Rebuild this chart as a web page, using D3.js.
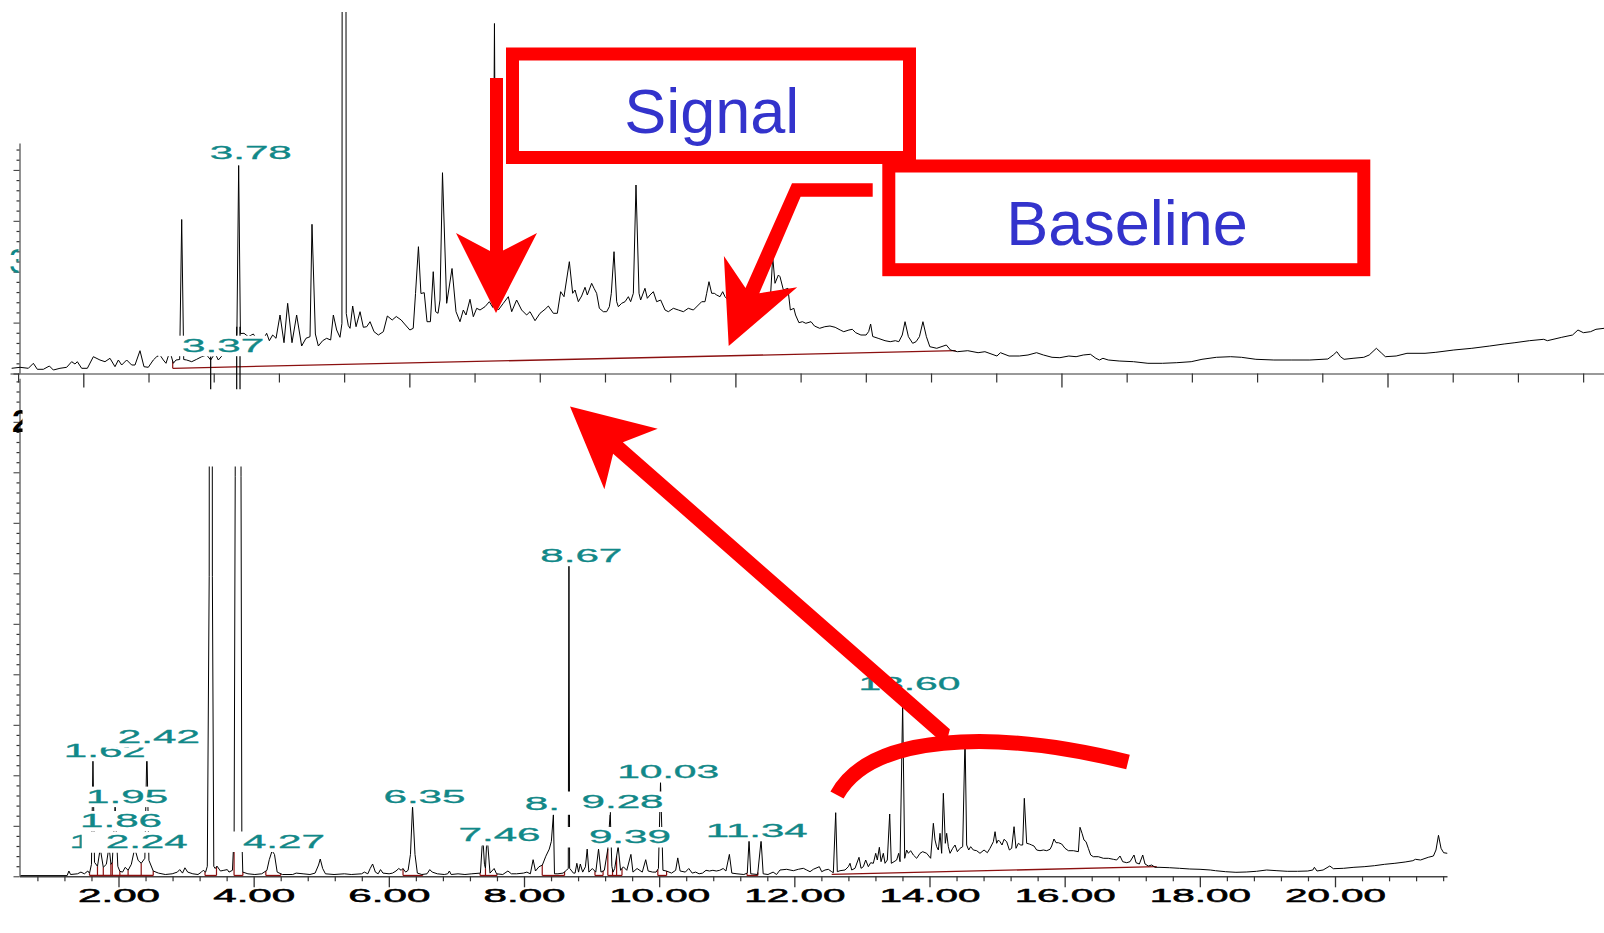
<!DOCTYPE html>
<html>
<head>
<meta charset="utf-8">
<script src="https://d3js.org/d3.v7.min.js"></script>
<style>
  html, body { margin: 0; padding: 0; background: #fff; }
  svg { display: block; }
</style>
</head>
<body>
<div id="chart"></div>
<script>
// ---- data: [retention time (min), abundance] ----
const topTrace = [
[0.419,5.2],[0.543,6.2],[0.666,5.2],[0.74,10.2],[0.799,4.2],[0.888,4.2],[0.977,7.5],[1.036,3.5],[1.134,5.2],[1.233,6.2],[1.307,11.8],[1.356,9.5],[1.391,11.8],[1.455,5.2],[1.539,5.2],[1.628,16.8],[1.726,13.5],[1.8,11.8],[1.874,15.2],[1.948,6.8],[1.998,13.5],[2.047,8.5],[2.121,13.5],[2.195,8.5],[2.244,8.5],[2.318,22.8],[2.377,6.8],[2.441,6.2],[2.515,13.5],[2.565,16.8],[2.614,18.5],[2.663,13.5],[2.703,10.2],[2.737,17.5],[2.772,19.5],[2.811,10.2],[2.851,13.5],[2.905,14],[2.935,154],[2.965,14],[3.009,13.5],[3.083,11.8],[3.157,14.2],[3.231,16.8],[3.305,18.5],[3.364,13.5],[3.428,20.2],[3.477,13.5],[3.542,18.5],[3.65,19.5],[3.724,21.8],[3.752,40],[3.778,208],[3.804,40],[3.857,40.2],[3.921,36.8],[3.995,39.5],[4.069,31.8],[4.143,34.2],[4.192,40.2],[4.232,32.8],[4.281,38.5],[4.331,35.2],[4.39,58.5],[4.449,30.8],[4.503,70.2],[4.567,30.8],[4.636,58.5],[4.71,27.5],[4.774,35.2],[4.834,36.8],[4.863,149.2],[4.913,39.5],[4.957,27.5],[5.021,32.8],[5.08,35.2],[5.139,33.5],[5.179,58.5],[5.228,43.5],[5.277,36.2],[5.306,50],[5.312,700],[5.337,900],[5.362,700],[5.37,60],[5.4,48],[5.426,45.2],[5.465,67.5],[5.515,46.8],[5.574,61.8],[5.623,46.2],[5.673,46.8],[5.722,51.8],[5.781,41.8],[5.845,38.5],[5.919,41.8],[5.978,57.5],[6.05,53.5],[6.11,57],[6.183,53.5],[6.233,49.5],[6.311,43.5],[6.361,45.2],[6.395,80],[6.438,126.8],[6.475,80],[6.524,80.8],[6.565,51.8],[6.615,51.8],[6.657,101.8],[6.692,61.8],[6.728,60.2],[6.757,73.5],[6.794,200.8],[6.856,70.2],[6.935,105],[6.994,61.8],[7.053,51.8],[7.102,63.5],[7.142,58.5],[7.201,74.2],[7.25,56.8],[7.3,65.2],[7.349,63.5],[7.423,66.8],[7.487,71.8],[7.54,66],[7.563,350],[7.585,66],[7.62,63.5],[7.694,70.2],[7.768,76.8],[7.818,61.8],[7.891,73.5],[7.965,63.5],[8.039,58.5],[8.089,61.8],[8.163,52.8],[8.237,60.2],[8.311,64.2],[8.36,67.5],[8.434,60.2],[8.493,60.2],[8.543,81.8],[8.592,76.8],[8.671,111.8],[8.72,80.2],[8.755,83.5],[8.804,71.8],[8.853,77.5],[8.903,86.2],[8.937,78.5],[9.001,90.2],[9.036,85.2],[9.075,80.2],[9.115,65.2],[9.174,61.8],[9.223,61.8],[9.263,66.8],[9.292,80.2],[9.332,121.8],[9.371,71.8],[9.396,66.8],[9.445,70.2],[9.495,71.8],[9.544,76.8],[9.578,71.8],[9.618,80.2],[9.657,188.5],[9.702,80.2],[9.726,73.5],[9.79,85.2],[9.825,75.2],[9.864,78.5],[9.914,81.8],[9.963,71.8],[10.022,73.5],[10.087,63.5],[10.136,61.8],[10.21,65.2],[10.284,63.5],[10.358,61.8],[10.431,65.2],[10.506,63.5],[10.58,68.5],[10.629,71.8],[10.678,71.8],[10.703,80.2],[10.737,91.8],[10.777,80.2],[10.816,80.2],[10.851,78.5],[10.9,76.8],[10.94,81.8],[10.974,76.8],[11.1,68],[11.3,64],[11.5,66],[11.615,63.5],[11.65,80],[11.68,116.8],[11.714,90.2],[11.764,98.5],[11.788,96.8],[11.838,83.5],[11.905,85.2],[11.941,63.5],[11.993,65.2],[12.018,58.5],[12.068,50.8],[12.12,51.8],[12.17,50.2],[12.247,51.8],[12.298,47.5],[12.375,45.2],[12.451,46.8],[12.527,47.5],[12.604,46.2],[12.679,43.5],[12.731,41.8],[12.808,43.5],[12.858,44.2],[12.908,40.8],[12.985,38.5],[13.062,38.5],[13.1,42],[13.129,49.5],[13.16,37],[13.24,35.2],[13.342,32.8],[13.419,31.8],[13.495,32.8],[13.546,31.8],[13.597,38.5],[13.638,51.8],[13.688,36.8],[13.751,30.2],[13.801,31.8],[13.851,36.8],[13.903,51.8],[13.954,36.8],[14.005,26.8],[14.107,25.2],[14.249,28.5],[14.31,23.5],[14.412,21.8],[14.566,22.8],[14.719,20.8],[14.82,21.8],[14.998,17.5],[15.05,20.8],[15.177,17.5],[15.329,17.5],[15.457,18.5],[15.584,20.8],[15.686,18.5],[15.813,16.2],[15.929,15.8],[16.062,17.5],[16.169,16.8],[16.275,18.5],[16.382,19.2],[16.462,15.2],[16.515,13.5],[16.566,15.2],[16.646,13.5],[16.806,12.5],[17.019,11.8],[17.232,10.2],[17.445,10.2],[17.659,10.8],[17.872,11.8],[18.032,14.2],[18.245,16.2],[18.456,16.8],[18.616,16.2],[18.829,14.2],[19.095,13.5],[19.362,13.5],[19.628,13.5],[19.894,14.5],[19.974,18.5],[20.027,21.8],[20.081,16.8],[20.134,14.2],[20.267,15.2],[20.426,16.2],[20.506,18.5],[20.612,25.2],[20.692,20.2],[20.745,16.8],[20.905,17.5],[21.065,20.2],[21.332,20.2],[21.492,21.2],[21.758,23.5],[22.025,25.2],[22.29,27.5],[22.503,29.5],[22.662,30.8],[22.876,32.8],[23.089,34.2],[23.142,32.8],[23.355,36.2],[23.515,38.5],[23.595,43.5],[23.675,40.8],[23.781,41.8],[23.861,44.2],[23.983,45.2]
];

const botTrace = [
[0.55,0.7],[1.24,0.7],[1.266,5.3],[1.291,1.8],[1.393,2.5],[1.444,4.2],[1.495,2.5],[1.546,5.3],[1.571,3],[1.6,12],[1.622,117],[1.645,14],[1.689,10],[1.73,28],[1.775,9],[1.82,12],[1.86,30],[1.888,12],[1.908,14],[1.95,70],[1.99,10],[2.02,5],[2.06,4.2],[2.1,9],[2.142,6],[2.19,12],[2.24,28],[2.29,16],[2.336,13],[2.39,18],[2.42,128],[2.45,16],[2.514,5.3],[2.591,3.2],[2.692,1.8],[2.794,2.5],[2.871,4.2],[2.906,6.7],[2.947,3.2],[2.983,8.5],[3.024,4.2],[3.1,2.5],[3.176,1.8],[3.227,4.2],[3.253,6],[3.289,4.2],[3.314,10],[3.342,300],[3.366,3000],[3.389,300],[3.41,10],[3.431,7.8],[3.457,10.2],[3.508,5.3],[3.559,6],[3.61,6.7],[3.635,4.2],[3.686,6],[3.711,43],[3.727,400],[3.77,3000],[3.813,400],[3.825,40],[3.839,4.2],[3.915,2.5],[4.017,1.8],[4.119,2.5],[4.196,6],[4.231,16.6],[4.272,25.4],[4.308,21.9],[4.348,4.2],[4.425,1.8],[4.578,1.8],[4.629,3.2],[4.731,2.5],[4.833,1.8],[4.909,3.2],[4.96,11.3],[4.985,17.3],[5.021,7.8],[5.062,2.5],[5.189,1.8],[5.342,2.5],[5.444,1.8],[5.597,2.5],[5.638,4.2],[5.689,2.5],[5.724,7.8],[5.76,12.3],[5.801,4.2],[5.842,2.5],[5.877,6.7],[5.913,3.2],[6.004,2.5],[6.055,3.2],[6.106,5.3],[6.147,7.8],[6.183,6],[6.208,7.8],[6.249,4.2],[6.285,6],[6.32,21.9],[6.351,70.2],[6.387,21.9],[6.422,3.2],[6.489,1.8],[6.565,2.5],[6.606,6.7],[6.642,4.2],[6.718,2.5],[6.82,1.8],[6.871,2.5],[6.896,5.3],[6.922,1.8],[7.024,2.5],[7.126,1.8],[7.228,2.5],[7.355,3.2],[7.38,30],[7.395,34],[7.415,12],[7.43,8],[7.445,30],[7.462,34],[7.497,3.2],[7.558,7.8],[7.594,2.5],[7.686,1.8],[7.762,5.3],[7.813,2.5],[7.89,2.5],[7.992,3.2],[8.043,4.2],[8.094,2.5],[8.135,16.6],[8.17,5.3],[8.221,9.5],[8.272,11.3],[8.323,20.1],[8.374,27.2],[8.405,35],[8.435,62],[8.451,2.5],[8.502,2.5],[8.578,3.2],[8.629,6],[8.655,8],[8.665,311],[8.675,8],[8.731,3.2],[8.756,3.2],[8.782,13],[8.807,4.2],[8.833,12.3],[8.868,4.2],[8.909,9.5],[8.935,27.2],[8.96,4.2],[9.011,7.8],[9.062,4.2],[9.103,27.2],[9.139,4.2],[9.189,6],[9.24,27.2],[9.276,64],[9.3,10],[9.317,4.2],[9.342,7.8],[9.393,30],[9.429,6],[9.47,9.5],[9.521,6],[9.582,21.9],[9.612,4.2],[9.673,7.8],[9.75,4.2],[9.801,16.6],[9.837,5.3],[9.903,4.2],[9.954,4.2],[9.989,7.8],[10.02,94],[10.056,6],[10.107,5.3],[10.183,3.2],[10.244,6],[10.275,18.4],[10.31,5.3],[10.387,4.2],[10.438,7.8],[10.489,3.2],[10.54,4.2],[10.591,2.5],[10.642,3.2],[10.693,6],[10.744,5.3],[10.795,6],[10.845,5.3],[10.896,6],[10.947,7.8],[10.988,5.3],[11.039,21.9],[11.075,3.2],[11.151,2.5],[11.253,1.8],[11.304,3.2],[11.33,36],[11.355,2.5],[11.457,1.8],[11.508,36],[11.539,2.5],[11.61,1.8],[11.686,4.2],[11.737,1.8],[11.788,6.3],[11.887,7],[11.985,5.6],[12.059,7],[12.133,8],[12.183,6.3],[12.232,4.6],[12.281,7],[12.37,9.6],[12.405,4.6],[12.454,6.3],[12.503,7],[12.553,4.6],[12.577,3.6],[12.612,63.6],[12.636,4.6],[12.676,5.6],[12.75,6.3],[12.799,9.6],[12.824,13],[12.849,6.3],[12.898,8],[12.957,19],[12.987,8],[13.021,9.6],[13.056,16.3],[13.095,9.6],[13.13,13.6],[13.169,13],[13.204,23],[13.228,16.3],[13.258,29],[13.283,14.6],[13.317,23],[13.342,13],[13.376,16.3],[13.411,62.3],[13.435,13],[13.475,14.6],[13.514,16.3],[13.544,23],[13.564,14.6],[13.603,172],[13.633,18],[13.662,26.3],[13.687,23],[13.721,25.6],[13.761,21.3],[13.81,18],[13.86,23],[13.899,24.6],[13.958,23],[14.017,18],[14.057,53],[14.082,36.3],[14.106,29.6],[14.131,26.3],[14.156,43],[14.18,23],[14.205,83],[14.234,33],[14.254,43],[14.279,29.6],[14.304,23],[14.343,28],[14.378,31.3],[14.412,24.6],[14.452,28],[14.491,29.6],[14.526,140],[14.55,31.3],[14.58,26.3],[14.609,29.6],[14.649,26.3],[14.698,25.6],[14.747,23],[14.807,26.3],[14.856,23.6],[14.895,28],[14.945,34.6],[14.97,44.6],[14.994,33],[15.019,36.3],[15.043,34.6],[15.073,31.3],[15.103,37],[15.142,34.6],[15.182,26.3],[15.216,28],[15.251,49.6],[15.28,28],[15.315,33],[15.349,31.3],[15.379,31.3],[15.403,78],[15.438,33],[15.477,32.3],[15.512,31.3],[15.546,30.3],[15.586,26.3],[15.635,25.6],[15.685,26.3],[15.734,25.6],[15.783,27],[15.808,30.3],[15.842,37.3],[15.872,33.6],[15.907,33.6],[15.956,32.3],[16.005,28],[16.055,25.6],[16.129,25.6],[16.203,24.6],[16.227,49],[16.257,43],[16.286,36.3],[16.316,34.6],[16.35,28],[16.385,21.3],[16.424,19.6],[16.498,19.6],[16.573,18],[16.646,18],[16.72,17],[16.77,16.3],[16.819,20.3],[16.859,14.6],[16.918,13.6],[16.967,14.6],[17.026,21.3],[17.056,13.6],[17.105,12.3],[17.155,21.3],[17.189,12.3],[17.238,10.3],[17.288,11.3],[17.337,9],[17.396,9],[17.548,8.6],[17.699,8],[17.851,7.3],[18.003,7],[18.155,6.3],[18.231,5.6],[18.382,4.6],[18.534,4],[18.686,4.3],[18.838,5],[18.989,6.3],[19.141,5.6],[19.293,5],[19.445,5],[19.597,5.3],[19.672,6.3],[19.695,9],[19.733,5.3],[19.824,6.3],[19.923,10.3],[19.976,7.6],[20.128,8],[20.28,9],[20.431,9.6],[20.583,10.6],[20.735,12],[20.886,13],[21.038,14.3],[21.152,15.6],[21.19,17],[21.266,16.3],[21.38,19],[21.456,20.3],[21.494,26.3],[21.531,41],[21.569,28],[21.607,23.6],[21.661,23]
];

// integration baselines
const topBaseline = [[2.802, 5.2], [14.387, 22.8]];
const botLongBaseline = [[12.553, 2.0], [17.362, 9.6]];
const botSegments = [[1.571, 2.514], [3.28, 3.45], [3.71, 3.84], [4.18, 4.40], [6.21, 6.50], [7.35, 7.60], [8.27, 8.60], [9.05, 9.17], [9.24, 9.45], [9.98, 10.11], [11.30, 11.46]];
const botSplits = [1.689, 1.775, 1.887, 1.908, 2.02, 2.142, 2.336, 7.43, 9.31, 9.37];

// peak labels
const topLabelTimes = [3.78, 3.37];
const topLabelLevels = [214.2, 21.8];
const botLabelTimes = [1.70, 1.62, 2.42, 1.95, 1.86, 2.24, 4.27, 6.35, 7.46, 8.44, 8.67, 9.28, 9.39, 10.03, 11.34, 13.60];
const botLabelLevels = [28.3, 119.6, 133.3, 73.7, 49.3, 28.3, 28.8, 73.7, 35.3, 66, 314.6, 68.8, 33.3, 98.3, 39.5, 185.9];

// bottom peaks that spill into the top panel: [time, top of stub]
const overflowStubs = [[3.364, 17], [3.749, 46.8], [3.798, 46.8]];

// axis ticks
const botMajorTicks = d3.range(2, 21, 2);
const botMinorTicks = d3.range(0.8, 21.7, 0.4).filter(t => Math.abs(t / 2 - Math.round(t / 2)) > 0.01);

const svg = d3.select("#chart").append("svg")
    .attr("width", 1604)
    .attr("height", 933);

const x = d3.scaleLinear().domain([2, 20]).range([118.5, 1335]);
const yTop = d3.scaleLinear().domain([0, 360]).range([373.5, 13.5]);
const yBot = d3.scaleLinear().domain([0, 500]).range([876.3, 376.3]);

const defs = svg.append("defs");
defs.append("clipPath").attr("id", "clipTop")
  .append("rect").attr("x", 0).attr("y", 12).attr("width", 1604).attr("height", 361.5);
defs.append("clipPath").attr("id", "clipBot")
  .append("rect").attr("x", 0).attr("y", 466.4).attr("width", 1604).attr("height", 410);
defs.append("clipPath").attr("id", "clipGlyphA")
  .append("rect").attr("x", 0).attr("y", 240).attr("width", 18.5).attr("height", 40);
defs.append("clipPath").attr("id", "clipGlyphB")
  .append("rect").attr("x", 0).attr("y", 400).attr("width", 22.5).attr("height", 40);

const FONT = "'Liberation Sans', Arial, sans-serif";
const TEAL = "#118888";

// ---------- axes ----------
function styleAxis(g, domainColor) {
  g.select(".domain").attr("stroke", domainColor).attr("stroke-width", 1.6);
  g.selectAll(".tick line").attr("stroke", "#333").attr("stroke-width", 1.2);
}

// top x axis (unlabelled)
const xTopAxis = d3.scaleLinear().domain([-0.124, 24.32]).range([10, 1604]);
const topTicks = d3.range(0, 25);
svg.append("g").attr("transform", "translate(0,373.5)")
  .call(d3.axisBottom(xTopAxis).tickValues(topTicks.filter(k => k % 5 !== 1)).tickSize(9).tickSizeOuter(0).tickFormat(""))
  .call(g => styleAxis(g, "#777"));
svg.append("g").attr("transform", "translate(0,373.5)")
  .call(d3.axisBottom(xTopAxis).tickValues(topTicks.filter(k => k % 5 === 1)).tickSize(14).tickSizeOuter(0).tickFormat(""))
  .call(g => { g.select(".domain").remove(); g.selectAll(".tick line").attr("stroke", "#333").attr("stroke-width", 1.3); });

// top y axis
const yTopAxis = yTop.copy().domain([0, 230.5]).range([yTop(0), yTop(230.5)]);
const topYTicks = d3.range(0, 231, 10.18);
svg.append("g").attr("transform", "translate(19.5,0)")
  .call(d3.axisLeft(yTopAxis).tickValues(topYTicks.filter((d, i) => i % 5 !== 0)).tickSize(3).tickSizeOuter(0).tickFormat(""))
  .call(g => styleAxis(g, "#777"));
svg.append("g").attr("transform", "translate(19.5,0)")
  .call(d3.axisLeft(yTopAxis).tickValues(topYTicks.filter((d, i) => i % 5 === 0)).tickSize(6).tickSizeOuter(0).tickFormat(""))
  .call(g => { g.select(".domain").remove(); g.selectAll(".tick line").attr("stroke", "#333"); });

// bottom y axis
const yBotAxis = yBot.copy().domain([0, 498]).range([yBot(0), yBot(498)]);
const botYTicks = d3.range(0, 496, 10.1);
svg.append("g").attr("transform", "translate(19.5,0)")
  .call(d3.axisLeft(yBotAxis).tickValues(botYTicks.filter((d, i) => i % 5 !== 0)).tickSize(3).tickSizeOuter(0).tickFormat(""))
  .call(g => styleAxis(g, "#777"));
svg.append("g").attr("transform", "translate(19.5,0)")
  .call(d3.axisLeft(yBotAxis).tickValues(botYTicks.filter((d, i) => i % 5 === 0)).tickSize(6).tickSizeOuter(0).tickFormat(""))
  .call(g => { g.select(".domain").remove(); g.selectAll(".tick line").attr("stroke", "#333"); });

// bottom x axis
const xb = x.copy().domain([x.invert(19.4), x.invert(1447)]).range([19.4, 1447]);
svg.append("g").attr("transform", `translate(0,${yBot(0)})`)
  .call(d3.axisBottom(xb).tickValues(botMinorTicks).tickSize(5).tickSizeOuter(0).tickFormat(""))
  .call(g => styleAxis(g, "#444"));
svg.append("g").attr("transform", `translate(0,${yBot(0)})`)
  .call(d3.axisBottom(xb).tickValues(botMajorTicks).tickSize(11).tickSizeOuter(0).tickFormat(d3.format(".2f")))
  .call(g => {
    g.select(".domain").remove();
    g.selectAll(".tick line").attr("stroke", "#333").attr("stroke-width", 1.3);
    g.selectAll(".tick text")
      .attr("font-family", FONT).attr("font-size", 17.5)
      .attr("fill", "#000").attr("stroke", "#000").attr("stroke-width", 0.5)
      .attr("dy", "0.66em")
      .attr("textLength", d => d >= 10 ? 101 : 82)
      .attr("lengthAdjust", "spacingAndGlyphs");
  });

// ---------- traces ----------
const lineTop = d3.line().x(d => x(d[0])).y(d => yTop(d[1]));
const lineBot = d3.line().x(d => x(d[0])).y(d => yBot(d[1]));

function valueAt(trace, t) {
  const i = d3.bisector(d => d[0]).left(trace, t);
  if (i <= 0) return trace[0][1];
  if (i >= trace.length) return trace[trace.length - 1][1];
  const a = trace[i - 1], b = trace[i];
  return a[1] + (b[1] - a[1]) * (t - a[0]) / (b[0] - a[0]);
}

const DARKRED = "#8b1010";

// top baseline
svg.append("path").datum(topBaseline)
  .attr("d", lineTop).attr("fill", "none").attr("stroke", DARKRED).attr("stroke-width", 1.3);
svg.append("line")
  .attr("x1", x(topBaseline[0][0])).attr("x2", x(topBaseline[0][0]))
  .attr("y1", yTop(topBaseline[0][1])).attr("y2", yTop(valueAt(topTrace, topBaseline[0][0])))
  .attr("stroke", DARKRED).attr("stroke-width", 1.2);

svg.append("g").attr("clip-path", "url(#clipTop)")
  .append("path").datum(topTrace)
  .attr("d", lineTop).attr("fill", "none").attr("stroke", "#000").attr("stroke-width", 1);

// bottom baselines
const segLevel = 0.8;
svg.append("g").selectAll("line.seg").data(botSegments).enter().append("line")
  .attr("x1", d => x(d[0])).attr("x2", d => x(d[1]))
  .attr("y1", yBot(segLevel)).attr("y2", yBot(segLevel))
  .attr("stroke", DARKRED).attr("stroke-width", 1.3);
const dropTimes = botSegments.flat().concat(botSplits);
svg.append("g").selectAll("line.drop").data(dropTimes).enter().append("line")
  .attr("x1", d => x(d)).attr("x2", d => x(d))
  .attr("y1", yBot(segLevel)).attr("y2", d => yBot(valueAt(botTrace, d)))
  .attr("stroke", DARKRED).attr("stroke-width", 1.2);
svg.append("path").datum(botLongBaseline)
  .attr("d", lineBot).attr("fill", "none").attr("stroke", DARKRED).attr("stroke-width", 1.3);

svg.append("g").attr("clip-path", "url(#clipBot)")
  .append("path").datum(botTrace)
  .attr("d", lineBot).attr("fill", "none").attr("stroke", "#000").attr("stroke-width", 1);

// overflow stubs of the two solvent peaks
svg.append("g").selectAll("line").data(overflowStubs).enter().append("line")
  .attr("x1", d => x(d[0])).attr("x2", d => x(d[0]))
  .attr("y1", d => yTop(d[1])).attr("y2", yTop(-15.8))
  .attr("stroke", "#000").attr("stroke-width", 1.2);

// ---------- peak labels ----------
function drawLabels(times, levels, yScale) {
  const g = svg.append("g");
  times.forEach((t, i) => {
    const txt = t.toFixed(2);
    const long = txt.length > 4;
    const end = x(t) + (long ? 58 : 53);
    const base = yScale(levels[i]);
    g.append("rect")
      .attr("x", end - 106).attr("y", base - 16)
      .attr("width", 109).attr("height", 20.5)
      .attr("fill", "#fff");
    g.append("text")
      .attr("x", end).attr("y", base)
      .attr("text-anchor", "end")
      .attr("font-family", FONT).attr("font-size", 17.5)
      .attr("fill", TEAL).attr("stroke", TEAL).attr("stroke-width", 0.3)
      .attr("textLength", long ? 102 : 82)
      .attr("lengthAdjust", "spacingAndGlyphs")
      .text(txt);
  });
}
drawLabels(botLabelTimes, botLabelLevels, yBot);
drawLabels(topLabelTimes, topLabelLevels, yTop);

// clipped axis-title remnants at the left edge
svg.append("text").attr("clip-path", "url(#clipGlyphA)")
  .attr("x", 9).attr("y", 273).attr("font-family", FONT).attr("font-size", 35)
  .attr("fill", TEAL).text("3");
svg.append("text").attr("clip-path", "url(#clipGlyphB)")
  .attr("x", 12).attr("y", 432).attr("font-family", FONT).attr("font-size", 32)
  .attr("font-weight", "bold").attr("fill", "#000").text("2");

// ---------- annotations ----------
const RED = "#ff0000";
const BLUE = "#3333cc";

svg.append("rect").attr("x", 512.5).attr("y", 54).attr("width", 397).attr("height", 103.5)
  .attr("fill", "none").attr("stroke", RED).attr("stroke-width", 13);
svg.append("rect").attr("x", 888.8).attr("y", 166).attr("width", 475).attr("height", 103.7)
  .attr("fill", "none").attr("stroke", RED).attr("stroke-width", 13);

svg.append("text").attr("x", 711.7).attr("y", 132.7).attr("text-anchor", "middle")
  .attr("font-family", FONT).attr("font-size", 63).attr("fill", BLUE).text("Signal");
svg.append("text").attr("x", 1127).attr("y", 245).attr("text-anchor", "middle")
  .attr("font-family", FONT).attr("font-size", 63).attr("fill", BLUE).text("Baseline");

const poly = d3.line();
const signalArrow = [[490,78],[503,78],[503,250.5],[537,233],[496,313],[456,233],[490,251]];
const baselineArrow = [[872.7,183.3],[792,183.3],[745.5,288],[723.9,256],[728.7,346],[797.2,287.3],[759.3,293.3],[800.6,196.7],[872.7,196.7]];
const backArrow = [[570,406.5],[657.7,428.7],[622.9,442.3],[949.9,729.3],[946,744],[940.1,740.7],[613.1,453.7],[604.4,489.3]];

svg.append("path").attr("d", "M837,795 C870,735 990,728 1128,762")
  .attr("fill", "none").attr("stroke", RED).attr("stroke-width", 15);
[signalArrow, baselineArrow, backArrow].forEach(p => {
  svg.append("path").attr("d", poly(p) + "Z").attr("fill", RED);
});
</script>
</body>
</html>
